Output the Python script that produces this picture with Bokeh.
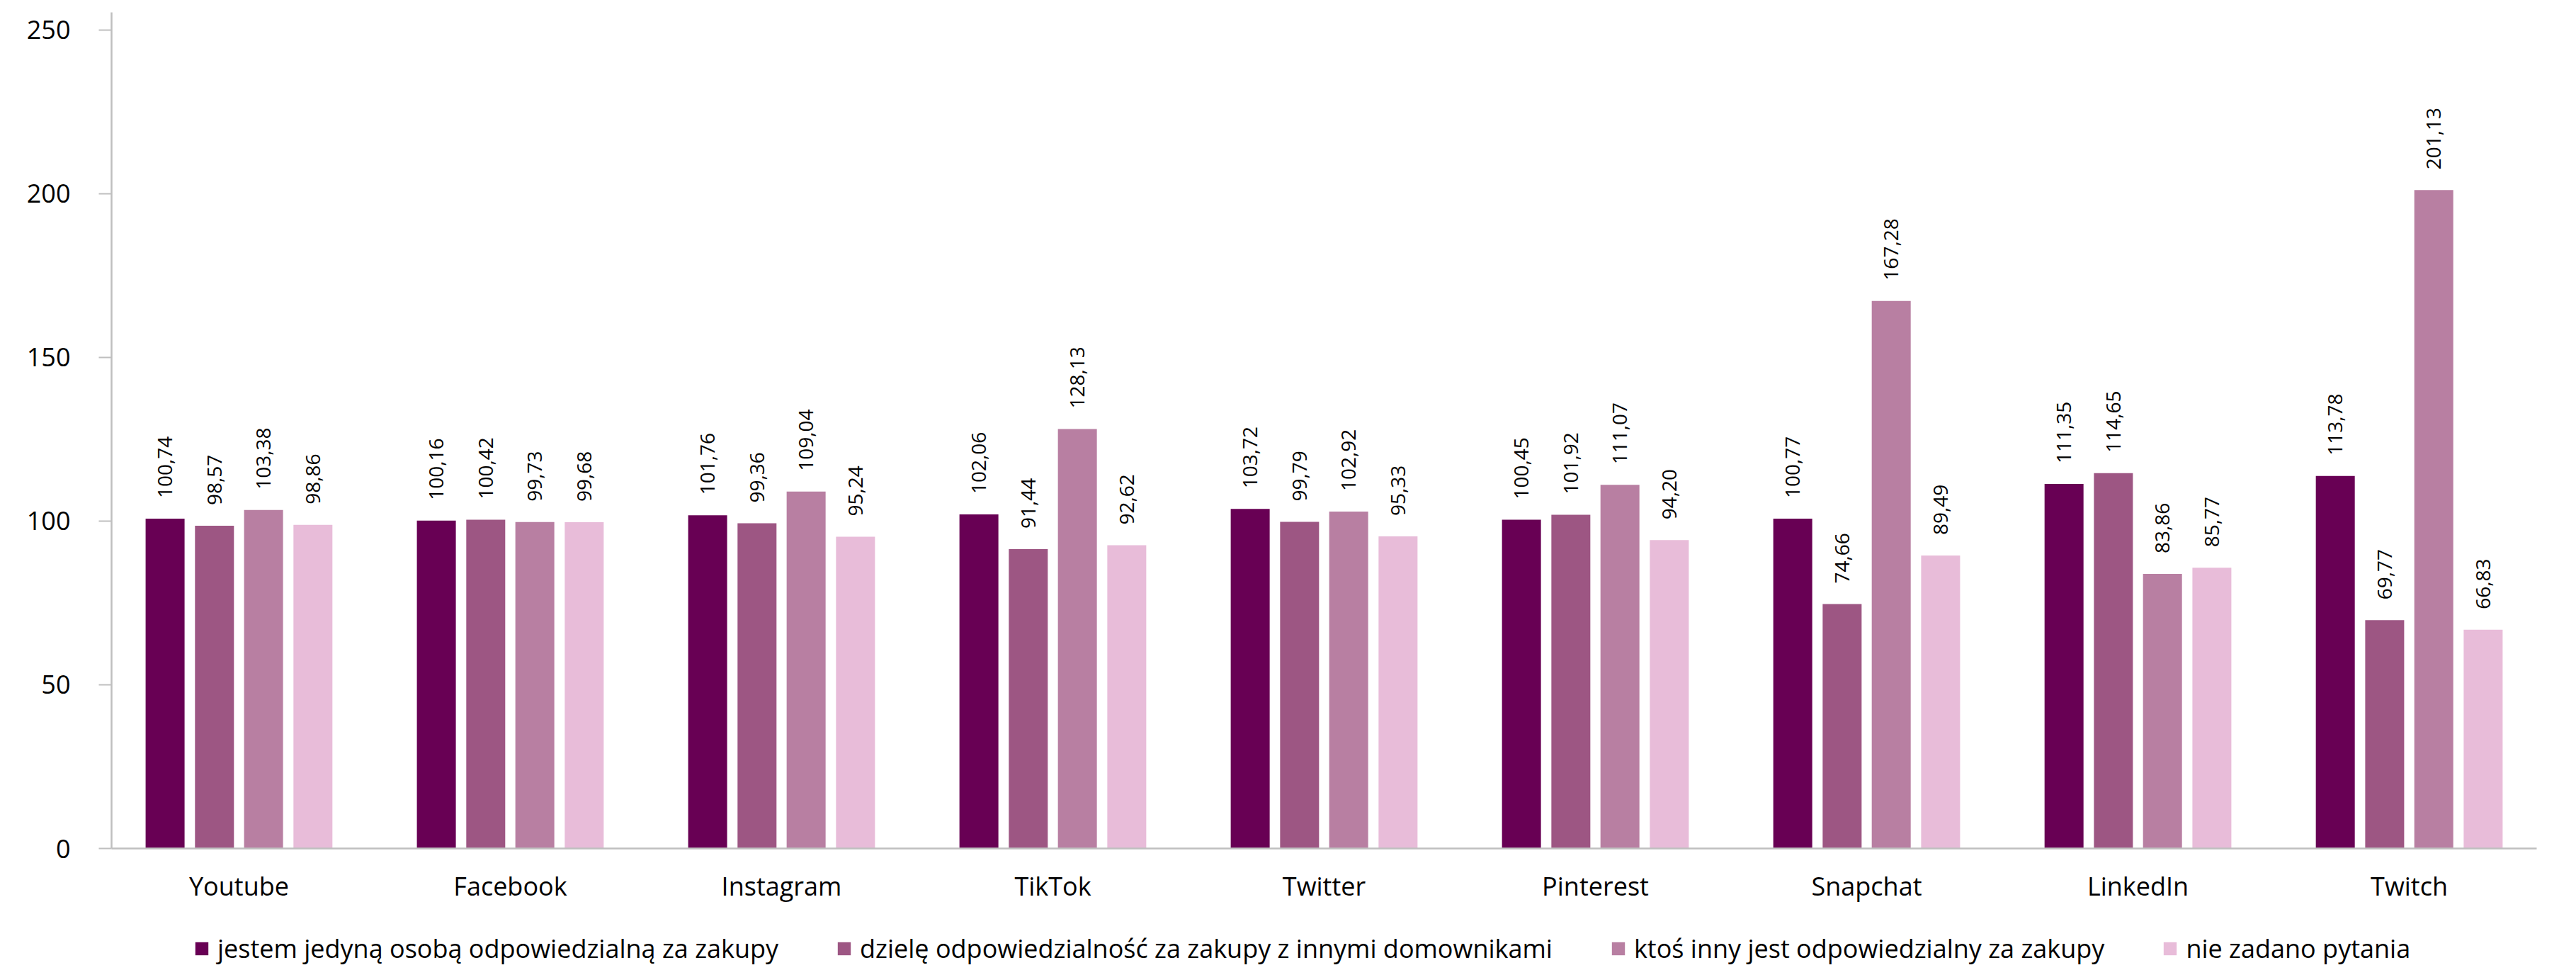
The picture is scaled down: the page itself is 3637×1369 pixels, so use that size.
from bokeh.plotting import figure
from bokeh.layouts import column
from bokeh.models import (ColumnDataSource, FactorRange, Range1d, LabelSet,
                          Legend, LegendItem, FixedTicker)
from bokeh.core.properties import value
from bokeh.transform import dodge
from bokeh.embed import file_html
from bokeh.resources import INLINE

platforms = ["Youtube", "Facebook", "Instagram", "TikTok", "Twitter",
             "Pinterest", "Snapchat", "LinkedIn", "Twitch"]
series_names = [
    "jestem jedyną osobą odpowiedzialną za zakupy",
    "dzielę odpowiedzialność za zakupy z innymi domownikami",
    "ktoś inny jest odpowiedzialny za zakupy",
    "nie zadano pytania",
]
jestem = [100.74, 100.16, 101.76, 102.06, 103.72, 100.45, 100.77, 111.35, 113.78]
dziele = [98.57, 100.42, 99.36, 91.44, 99.79, 101.92, 74.66, 114.65, 69.77]
ktos = [103.38, 99.73, 109.04, 128.13, 102.92, 111.07, 167.28, 83.86, 201.13]
nie = [98.86, 99.68, 95.24, 92.62, 95.33, 94.20, 89.49, 85.77, 66.83]
y_ticks = [0, 50, 100, 150, 200, 250]

colors = ["#680054", "#9d5683", "#b87fa2", "#e8bcd9"]
series = [jestem, dziele, ktos, nie]
offsets = [-0.2725, -0.0905, 0.0905, 0.2725]
bar_w = 0.1436
FONT = "Open Sans"

H1 = 1290
x_range = FactorRange(*platforms, range_padding=-0.0067)
p = figure(x_range=x_range, y_range=Range1d(0, 255.4),
           width=3637, height=H1,
           min_border_left=157, min_border_right=56, min_border_top=17,
           min_border_bottom=H1 - 1197,
           output_backend="svg", toolbar_location=None)

for name, vals, col, off in zip(series_names, series, colors, offsets):
    src = ColumnDataSource(dict(
        cat=platforms, val=vals,
        lbl=[f"{v:.2f}".replace(".", ",") for v in vals]))
    p.vbar(x=dodge("cat", off, range=p.x_range), top="val", width=bar_w,
           source=src, fill_color=col, line_color=None)
    labels = LabelSet(x=dodge("cat", off, range=p.x_range), y="val", text="lbl",
                      source=src, angle=1.5707963, text_align="left",
                      text_baseline="middle", y_offset=29,
                      text_font=value(FONT), text_font_size="28px",
                      text_color="#000000")
    p.add_layout(labels)

p.xgrid.grid_line_color = None
p.ygrid.grid_line_color = None
p.outline_line_color = None

ax = p.xaxis[0]
ax.axis_line_color = "#bfbfbf"
ax.axis_line_width = 2.5
ax.major_tick_line_color = None
ax.major_tick_out = 0
ax.major_tick_in = 0
ax.major_label_standoff = 28
ax.major_label_text_font = FONT
ax.major_label_text_font_size = "36px"
ax.major_label_text_color = "#000000"

ay = p.yaxis[0]
ay.ticker = FixedTicker(ticks=y_ticks)
ay.axis_line_color = "#bfbfbf"
ay.axis_line_width = 2.5
ay.major_tick_line_color = "#bfbfbf"
ay.major_tick_line_width = 2
ay.major_tick_out = 18
ay.major_tick_in = 0
ay.minor_tick_line_color = None
ay.major_label_standoff = 40
ay.major_label_text_font = FONT
ay.major_label_text_font_size = "36px"
ay.major_label_text_color = "#000000"

# legend strip below the chart (its frame is aligned with the chart frame)
H2 = 1369 - H1
p2 = figure(width=3637, height=H2, x_range=Range1d(0, 1), y_range=Range1d(0, 1),
            x_axis_type=None, y_axis_type=None, min_border=0,
            output_backend="svg", toolbar_location=None)
p2.xgrid.grid_line_color = None
p2.ygrid.grid_line_color = None
p2.outline_line_color = None
items = []
for name, col in zip(series_names, colors):
    # legend-only renderer: zero-height bar placed outside the visible ranges
    r = p2.vbar(x=[-5], top=[-5], bottom=[-5], width=0.1,
                fill_color=col, line_color=None)
    items.append(LegendItem(label=name, renderers=[r]))
legend = Legend(items=items, orientation="horizontal", location=(116, 6),
                glyph_width=23, glyph_height=23, label_standoff=11, spacing=81,
                label_text_font=FONT, label_text_font_size="36px",
                label_text_color="#000000", border_line_color=None,
                background_fill_alpha=0, margin=0, padding=0)
p2.add_layout(legend, "center")

layout = column(p, p2, spacing=0)
open("out.html", "w").write(file_html(layout, INLINE))
